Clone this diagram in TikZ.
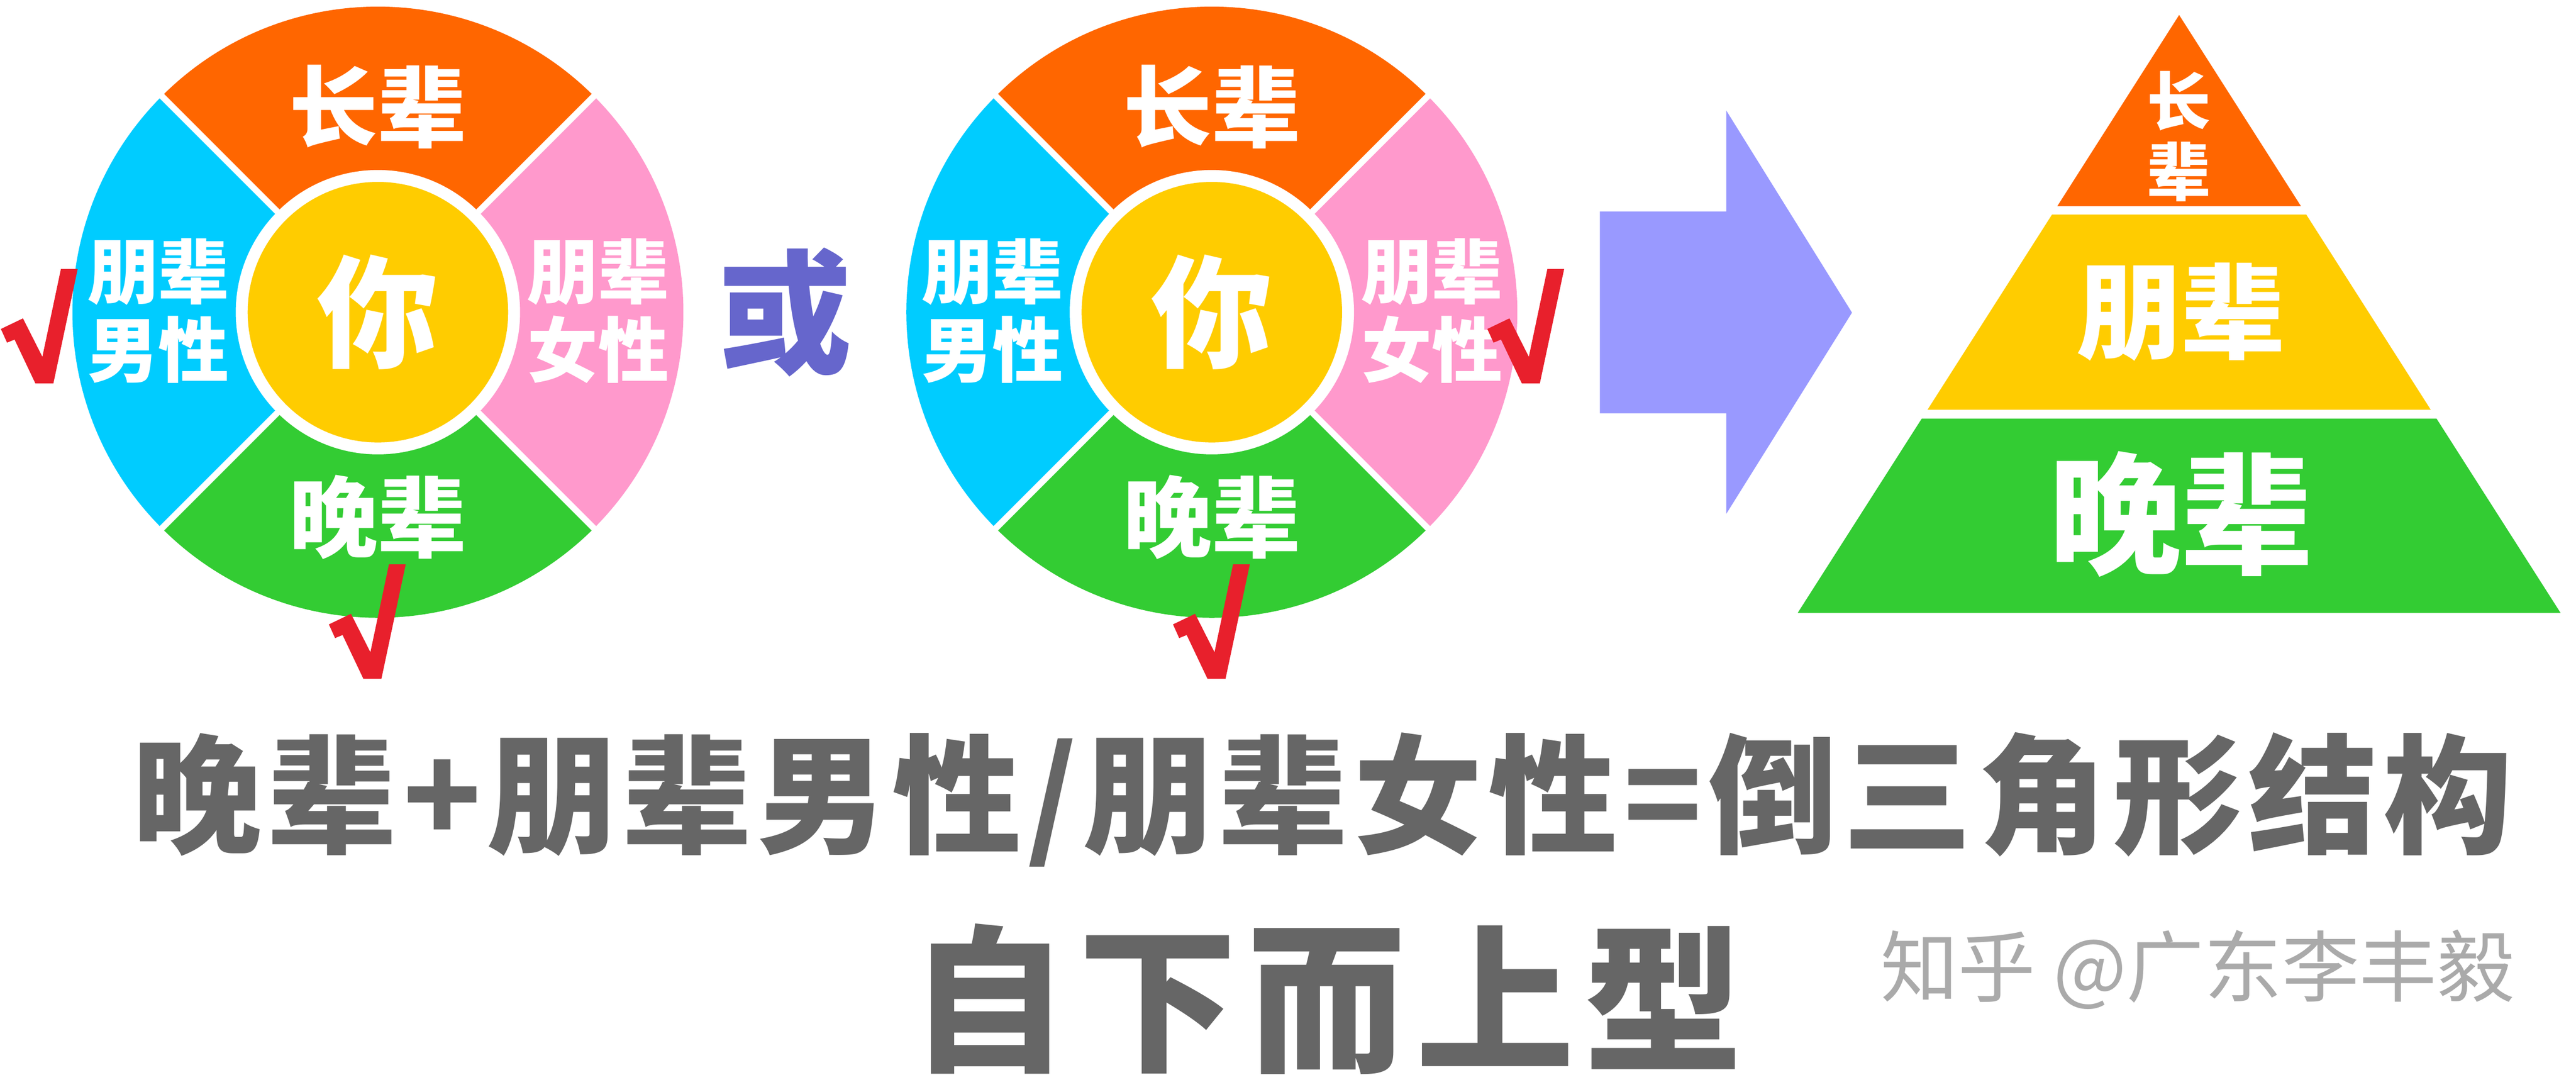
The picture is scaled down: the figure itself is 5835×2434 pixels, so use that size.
\documentclass[tikz,border=0pt]{standalone}
\usepackage{fontspec}
\newfontfamily\cjk{Noto Sans CJK SC}
\definecolor{cor}{HTML}{FF6600}
\definecolor{ccy}{HTML}{00CCFF}
\definecolor{cpk}{HTML}{FF99CC}
\definecolor{cgr}{HTML}{33CC33}
\definecolor{cye}{HTML}{FFCC00}
\definecolor{cred}{HTML}{E8202C}
\definecolor{carrow}{HTML}{9999FF}
\definecolor{cor2}{HTML}{6666CC}
\definecolor{cgray}{HTML}{666666}
\definecolor{cwm}{HTML}{AAAAAA}
\tikzset{
  lbl/.style={inner sep=0pt, text=white, font=\cjk\bfseries\fontsize{57}{60}\selectfont},
  side/.style={inner sep=0pt, text=white, align=center, font=\cjk\bfseries\fontsize{45.5}{50.6}\selectfont},
  you/.style={inner sep=0pt, text=white, font=\cjk\bfseries\fontsize{78}{80}\selectfont},
  chk/.pic={\fill[cred] (-78,123) -- (-28,147) -- (16,60) -- (58,259) -- (96,259) -- (41,0) -- (0,0) -- (-47,99) -- (-64,92) -- cycle;},
  gap/.style={white, line width=4pt},
  bigtxt/.style={inner sep=0pt, text=cgray, font=\cjk\bfseries\fontsize{83}{90}\selectfont\addfontfeature{LetterSpace=4.8}}
}
\begin{document}
\begin{tikzpicture}[x=0.01cm,y=0.01cm]
\useasboundingbox (0,0) rectangle (5835,2434);
\fill[white] (0,0) rectangle (5835,2434);
% wheels
\foreach \cx/\nm in {856/wa,2745/wb}{
  \coordinate (\nm) at (\cx,1727);
  \fill[cor] (\nm) -- ++(45:692) arc[start angle=45,end angle=135,radius=692] -- cycle;
  \fill[ccy] (\nm) -- ++(135:692) arc[start angle=135,end angle=225,radius=692] -- cycle;
  \fill[cgr] (\nm) -- ++(225:692) arc[start angle=225,end angle=315,radius=692] -- cycle;
  \fill[cpk] (\nm) -- ++(-45:692) arc[start angle=-45,end angle=45,radius=692] -- cycle;
  \draw[gap] (\nm) +(45:700) -- +(225:700);
  \draw[gap] (\nm) +(135:700) -- +(315:700);
  \fill[white] (\nm) circle[radius=322];
  \fill[cye] (\nm) circle[radius=295];
  \node[you] (\nm-you) at (\cx,1727) {你};
  \node[lbl] (\nm-top) at (\cx,2192) {长辈};
  \node[lbl] (\nm-bot) at (\cx,1263) {晚辈};
  \pgfmathsetmacro\lx{\cx-497}
  \pgfmathsetmacro\rx{\cx+499}
  \node[side] (\nm-left) at (\lx,1730) {朋辈\\男性};
  \node[side] (\nm-right) at (\rx,1730) {朋辈\\女性};
}
% check marks
\pic at (80,1566) {chk};
\pic at (823,897) {chk};
\pic at (2735,897) {chk};
\pic at (3447,1566) {chk};
% or
\node[inner sep=0pt, text=cor2, font=\cjk\bfseries\fontsize{86}{90}\selectfont] (or) at (1778,1727) {或};
% arrow
\fill[carrow] (3624,1955) -- (3910,1955) -- (3910,2184) -- (4195,1726) -- (3910,1270) -- (3910,1498) -- (3624,1498) -- cycle;
% pyramid
\fill[cor] (4936,2400) -- (5212,1967) -- (4660,1967) -- cycle;
\fill[cye] (4648,1948) -- (5224,1948) -- (5506,1506) -- (4366,1506) -- cycle;
\fill[cgr] (4353,1486) -- (5519,1486) -- (5800,1046) -- (4072,1046) -- cycle;
\node[inner sep=0pt, text=white, align=center, font=\cjk\bfseries\fontsize{41}{45}\selectfont] (p1) at (4936,2125) {长\\辈};
\node[inner sep=0pt, text=white, font=\cjk\bfseries\fontsize{67}{70}\selectfont] (p2) at (4940,1728) {朋辈};
\node[inner sep=0pt, text=white, font=\cjk\bfseries\fontsize{85}{90}\selectfont] (p3) at (4941,1269) {晚辈};
% bottom text
\node[bigtxt] (t1) at (2996,623) {晚辈+朋辈男性/朋辈女性=倒三角形结构};
\node[bigtxt, font=\cjk\bfseries\fontsize{102}{110}\selectfont\addfontfeature{LetterSpace=6.5}] (t2) at (3005,172) {自下而上型};
\node[inner sep=0pt, text=cwm, font=\cjk\fontsize{50}{55}\selectfont] (wm) at (4978,238) {知乎 @广东李丰毅};
\end{tikzpicture}
\end{document}
